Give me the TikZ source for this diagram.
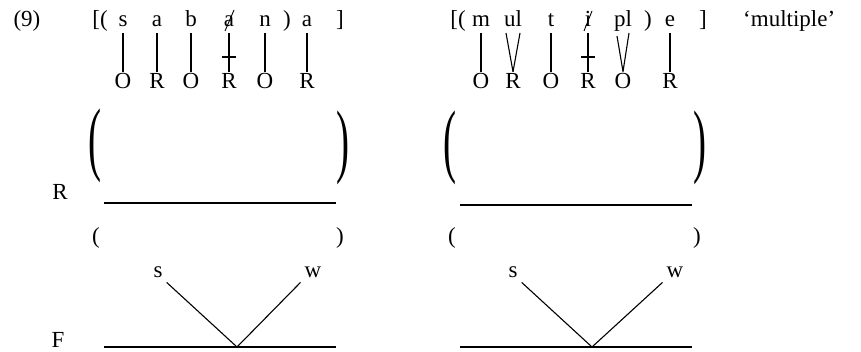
\documentclass[tikz,border=0pt]{standalone}
\usepackage{fontspec}
\setmainfont{Liberation Serif}
\begin{document}
\begin{tikzpicture}[x=1pt,y=-1pt,
  font=\fontsize{23}{27}\selectfont,
  every node/.style={inner sep=0pt},
  seg/.style={line width=1.1pt},
  slash/.style={line width=0.9pt},
  txt/.style={anchor=base},
  lab/.style={anchor=base, inner sep=2pt},
  wsnode/.style={anchor=base, inner sep=4pt},
]
\useasboundingbox (0,0) rectangle (861,352);

% ---------- example number ----------
\node[txt] (ex) at (27,27) {(9)};

% ---------- left: top row ----------
\node[txt] (lbA) at (100,27) {[(};
\node[txt] (sA) at (123,27) {s};
\node[txt] (aA) at (157,27) {a};
\node[txt] (bA) at (191,27) {b};
\node[txt] (a2A) at (229,27) {a};
\node[txt] (nA) at (265,27) {n};
\node[txt] (rpA) at (287,27) {)};
\node[txt] (a3A) at (307,27) {a};
\node[txt] (rbA) at (340,27) {]};
\draw[slash] (234,10) -- (225,31);

% left: O/R row
\node[lab] (o1A) at (123,89) {O};
\node[lab] (r1A) at (157,89) {R};
\node[lab] (o2A) at (191,89) {O};
\node[lab] (r2A) at (229,89) {R};
\node[lab] (o3A) at (265,89) {O};
\node[lab] (r3A) at (307,89) {R};

% left: association lines
\coordinate (tsA) at (123,33);
\coordinate (taA) at (157,33);
\coordinate (tbA) at (191,33);
\coordinate (ta2A) at (229,33);
\coordinate (tnA) at (265,33);
\coordinate (ta3A) at (307,33);
\draw[seg] (tsA) -- (o1A.north);
\draw[seg] (taA) -- (r1A.north);
\draw[seg] (tbA) -- (o2A.north);
\draw[seg] (ta2A) -- (r2A.north);
\draw[seg] (tnA) -- (o3A.north);
\draw[seg] (ta3A) -- (r3A.north);
\coordinate (xA1) at (222,57);
\coordinate (xA2) at (236,57);
\draw[seg] (xA1) -- (xA2);

% ---------- right: top row ----------
\node[txt] (lbB) at (458,27) {[(};
\node[txt] (mB) at (481,27) {m};
\node[txt] (ulB) at (513,27) {ul};
\node[txt] (tB) at (551,27) {t};
\node[txt] (iB) at (588,27) {i};
\node[txt] (plB) at (623,27) {pl};
\node[txt] (rpB) at (648,27) {)};
\node[txt] (eB) at (670,27) {e};
\node[txt] (rbB) at (703,27) {]};
\node[txt, anchor=base west] (gloss) at (743,27) {`multiple'};
\draw[slash] (592,11) -- (584,31);

% right: O/R row
\node[lab] (o1B) at (481,89) {O};
\node[lab] (r1B) at (513,89) {R};
\node[lab] (o2B) at (551,89) {O};
\node[lab] (r2B) at (588,89) {R};
\node[lab] (o3B) at (623,89) {O};
\node[lab] (r3B) at (670,89) {R};

% right: association lines
\coordinate (tmB) at (481,33);
\coordinate (tuB) at (506,33);
\coordinate (tlB) at (520,33);
\coordinate (ttB) at (551,33);
\coordinate (tiB) at (588,33);
\coordinate (tpB) at (617,36);
\coordinate (tl2B) at (629,33);
\coordinate (teB) at (670,33);
\draw[seg] (tmB) -- (o1B.north);
\draw[seg] (tuB) -- (r1B.north);
\draw[seg] (tlB) -- (r1B.north);
\draw[seg] (ttB) -- (o2B.north);
\draw[seg] (tiB) -- (r2B.north);
\draw[seg] (tpB) -- (o3B.north);
\draw[seg] (tl2B) -- (o3B.north);
\draw[seg] (teB) -- (r3B.north);
\coordinate (xB1) at (581,57);
\coordinate (xB2) at (595,57);
\draw[seg] (xB1) -- (xB2);

% ---------- big parentheses ----------
\node (bpLA) at (95,146) {\scalebox{1.7}[3.55]{(}};
\node (bpRA) at (343,148) {\scalebox{1.7}[3.55]{)}};
\node (bpLB) at (450,148) {\scalebox{1.7}[3.55]{(}};
\node (bpRB) at (700,148) {\scalebox{1.7}[3.55]{)}};

% ---------- R tier ----------
\node[txt] (Rlab) at (60,200) {R};
\coordinate (rlA1) at (104,203);
\coordinate (rlA2) at (336,203);
\coordinate (rlB1) at (460,205);
\coordinate (rlB2) at (692,205);
\draw[seg] (rlA1) -- (rlA2);
\draw[seg] (rlB1) -- (rlB2);

% small parentheses
\node (spLA) at (96,238) {(};
\node (spRA) at (340,238) {)};
\node (spLB) at (452,238) {(};
\node (spRB) at (697,238) {)};

% ---------- s / w and F tier ----------
\node[wsnode] (sA2) at (158,278) {s};
\node[wsnode] (wA2) at (313,278) {w};
\node[wsnode] (sB2) at (513,278) {s};
\node[wsnode] (wB2) at (675,278) {w};

\node[txt] (Flab) at (58,347) {F};
\coordinate (flA1) at (104,347);
\coordinate (flA2) at (336,347);
\coordinate (apA) at (237,347);
\coordinate (flB1) at (460,347);
\coordinate (flB2) at (692,347);
\coordinate (apB) at (592,347);
\draw[seg] (flA1) -- (flA2);
\draw[seg] (flB1) -- (flB2);
\draw[seg] (sA2.south east) -- (apA);
\draw[seg] (wA2.south west) -- (apA);
\draw[seg] (sB2.south east) -- (apB);
\draw[seg] (wB2.south west) -- (apB);
\end{tikzpicture}
\end{document}
